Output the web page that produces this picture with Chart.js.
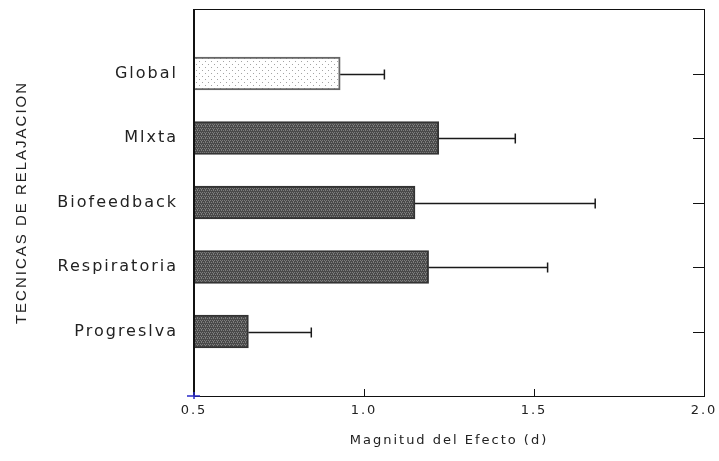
<!DOCTYPE html>
<html>
<head>
<meta charset="utf-8">
<script src="https://cdn.jsdelivr.net/npm/chart.js@4.4.1/dist/chart.umd.min.js"></script>
<style>
  html, body { margin: 0; padding: 0; background: #fff; }
  #wrap { width: 719px; height: 461px; }
</style>
</head>
<body>
<div id="wrap"><canvas id="chart"></canvas></div>
<script>
// data
const categories = ["", "Global", "Mlxta", "Biofeedback", "Respiratoria", "Progreslva", ""];
const effectSize = [null, 0.93, 1.22, 1.15, 1.19, 0.66, null];
const upperError = [null, 1.06, 1.445, 1.68, 1.54, 0.845, null];
const xTicks = [0.5, 1.0, 1.5, 2.0];

function makePattern(w, h, bg, fg, dots) {
  const c = document.createElement("canvas");
  c.width = w; c.height = h;
  const g = c.getContext("2d");
  g.fillStyle = bg;
  g.fillRect(0, 0, w, h);
  g.fillStyle = fg;
  dots.forEach(([a, b]) => g.fillRect(a, b, 1, 1));
  return g.createPattern(c, "repeat");
}

const darkFill = makePattern(4, 4, "#4a4a4a", "#7e7e7e", [[0, 0], [2, 0], [1, 2], [3, 2], [1, 1]]);
const lightFill = makePattern(6, 6, "#ffffff", "#a4a4a4", [[1, 1], [4, 4]]);

const fills = categories.map((c, i) => (i === 1 ? lightFill : darkFill));
const borders = categories.map((c, i) => (i === 1 ? "#666" : "#333"));

// letter spacing for the wide old-style lettering
const spacing = {
  id: "spacing",
  beforeLayout(chart) { chart.ctx.letterSpacing = "2px"; },
  beforeDraw(chart) { chart.ctx.letterSpacing = "2px"; }
};

// box around the plot, inward ticks, origin mark
const frame = {
  id: "frame",
  afterDatasetsDraw(chart) {
    const { ctx, chartArea: a, scales: { x, y } } = chart;
    ctx.save();
    ctx.strokeStyle = "#111";
    ctx.lineWidth = 1;
    ctx.strokeRect(a.left + 0.5, a.top + 0.5, a.right - a.left, a.bottom - a.top);
    ctx.lineWidth = 2;
    ctx.beginPath();
    ctx.moveTo(a.left, a.top);
    ctx.lineTo(a.left, a.bottom);
    ctx.stroke();
    ctx.lineWidth = 1;
    ctx.beginPath();
    xTicks.forEach(v => {
      const px = Math.round(x.getPixelForValue(v)) + 0.5;
      ctx.moveTo(px, a.bottom);
      ctx.lineTo(px, a.bottom - 7);
    });
    categories.forEach((c, i) => {
      if (!c) return;
      const py = Math.round(y.getPixelForValue(i)) + 0.5;
      ctx.moveTo(a.right, py);
      ctx.lineTo(a.right - 11, py);
    });
    ctx.stroke();
    // small blue cross at the origin
    const ox = x.getPixelForValue(xTicks[0]);
    ctx.strokeStyle = "#2a2ac8";
    ctx.lineWidth = 1.5;
    ctx.beginPath();
    ctx.moveTo(ox - 7, a.bottom);
    ctx.lineTo(ox + 6, a.bottom);
    ctx.moveTo(ox, a.bottom - 4);
    ctx.lineTo(ox, a.bottom + 3);
    ctx.stroke();
    ctx.restore();
  }
};

// one-sided error bars
const errorBars = {
  id: "errorBars",
  afterDatasetsDraw(chart) {
    const { ctx, scales: { x, y } } = chart;
    ctx.save();
    ctx.strokeStyle = "#1a1a1a";
    ctx.lineWidth = 1.5;
    effectSize.forEach((v, i) => {
      if (v == null) return;
      const py = Math.round(y.getPixelForValue(i)) + 0.5;
      const x0 = x.getPixelForValue(v);
      const x1 = x.getPixelForValue(upperError[i]);
      ctx.beginPath();
      ctx.moveTo(x0, py);
      ctx.lineTo(x1, py);
      ctx.moveTo(x1, py - 5);
      ctx.lineTo(x1, py + 5);
      ctx.stroke();
    });
    ctx.restore();
  }
};

new Chart(document.getElementById("chart"), {
  type: "bar",
  data: {
    labels: categories,
    datasets: [{
      data: effectSize,
      backgroundColor: fills,
      borderColor: borders,
      borderWidth: 2,
      borderSkipped: false,
      barThickness: 33
    }]
  },
  options: {
    indexAxis: "y",
    responsive: true,
    maintainAspectRatio: false,
    animation: false,
    layout: { padding: { top: 9, right: 15, left: 0, bottom: 0 } },
    plugins: {
      legend: { display: false },
      tooltip: { enabled: false }
    },
    scales: {
      x: {
        type: "linear",
        min: 0.5,
        max: 2.0,
        afterBuildTicks: s => { s.ticks = xTicks.map(v => ({ value: v })); },
        grid: { display: false, drawTicks: false },
        border: { display: false },
        ticks: {
          color: "#222",
          padding: 7,
          font: { family: "DejaVu Sans", size: 13 },
          callback: v => Number(v).toFixed(1)
        },
        title: {
          display: true,
          text: "Magnitud del Efecto (d)",
          color: "#222",
          font: { family: "DejaVu Sans", size: 13 },
          padding: { top: 0, bottom: 13 }
        },
        afterFit: s => { s.height = 65; s.paddingLeft = 0; s.paddingRight = 0; }
      },
      y: {
        type: "category",
        offset: false,
        grid: { display: false, drawTicks: false },
        border: { display: false },
        ticks: {
          color: "#222",
          padding: 16,
          autoSkip: false,
          font: { family: "DejaVu Sans", size: 16 }
        },
        title: {
          display: true,
          text: "TECNICAS DE RELAJACION",
          color: "#222",
          font: { family: "Liberation Sans", size: 15 },
          padding: { top: 13, bottom: 0 }
        },
        afterFit: s => { s.width = 194; s.paddingTop = 0; s.paddingBottom = 0; }
      }
    }
  },
  plugins: [spacing, frame, errorBars]
});
</script>
</body>
</html>
